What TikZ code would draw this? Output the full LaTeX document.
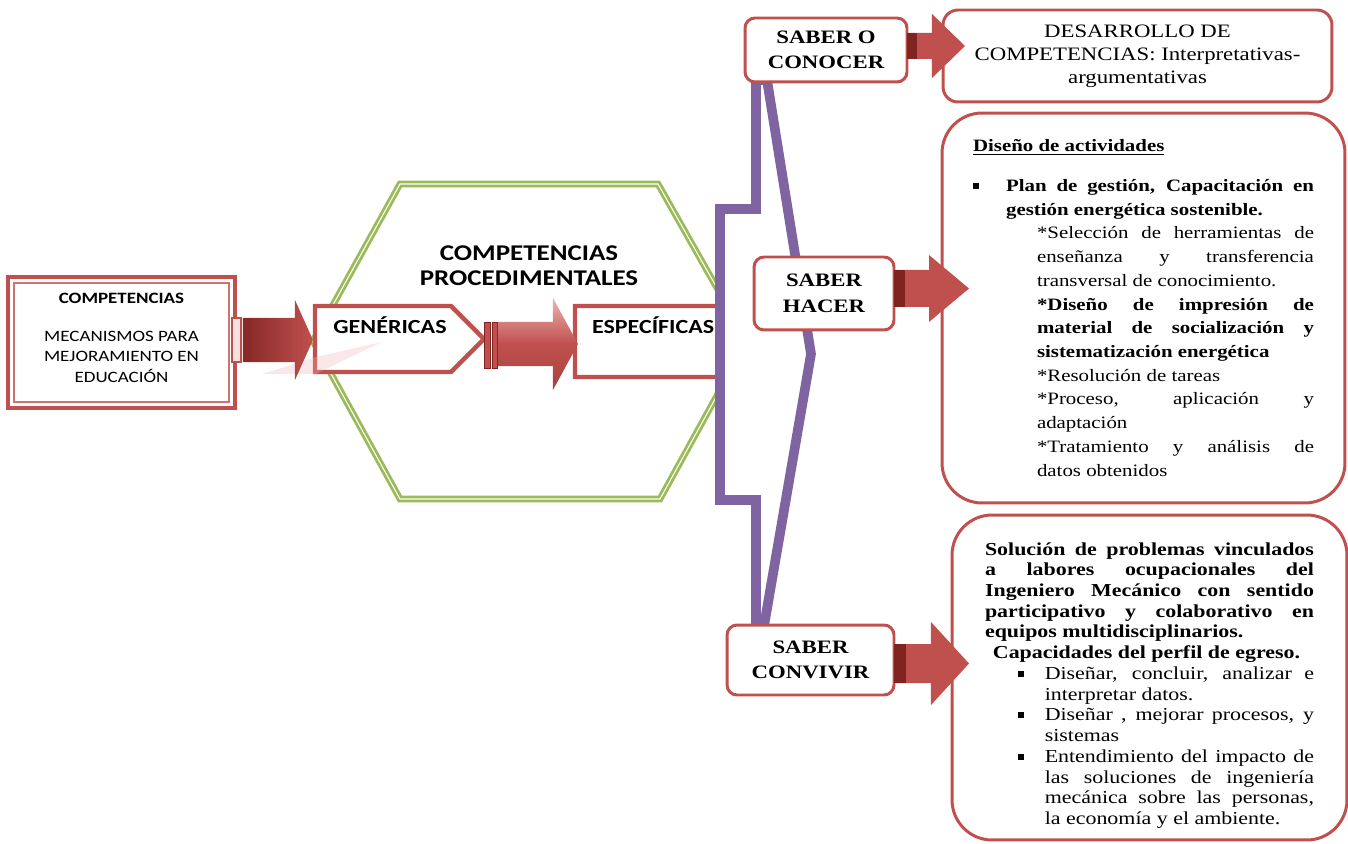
\documentclass[tikz,border=0pt]{standalone}
\usepackage{fontspec}
\setmainfont{Liberation Serif}[FakeStretch=1.2]
\newfontfamily\calibri{Carlito}[FakeStretch=1.2]
\definecolor{myred}{RGB}{192,80,77}
\definecolor{mydarkred}{RGB}{128,36,34}
\definecolor{mypink}{RGB}{236,180,178}
\definecolor{mygreen}{RGB}{155,187,89}
\definecolor{mypurple}{RGB}{128,100,162}
\usetikzlibrary{shapes.symbols,calc}

\newcommand{\sqbullet}{\rule[1.5pt]{3.5pt}{3.5pt}}

\begin{document}
\begin{tikzpicture}[x=0.02cm,y=-0.02cm,
    every node/.style={outer sep=0pt},
    compbox/.style={draw=myred,line width=2.5pt,fill=white,minimum width=4.54cm,minimum height=2.62cm,align=center,font=\calibri\fontsize{9}{11.7}\selectfont},
    arrowbox/.style={signal,signal to=east,signal pointer angle=90,draw=myred,line width=2.5pt,fill=white,inner sep=0pt,anchor=west,font=\calibri\bfseries\fontsize{11.4}{13}\selectfont,text height=8pt},
    saberbox/.style={draw=myred,line width=1.7pt,fill=white,rounded corners=0.2cm,align=center,inner sep=0pt,font=\bfseries\fontsize{10.8}{14.5}\selectfont},
    bigbox/.style={draw=myred,line width=1.7pt,fill=white,rounded corners=0.8cm,inner sep=0pt},
    hexline/.style={draw=mygreen,double=white,line width=1.6pt,double distance=0.6pt,fill=white},
    braceline/.style={draw=mypurple,line width=5.5pt,fill=white,line join=miter},
    boxarrow/.style={fill=myred},
    arrowband/.style={fill=mydarkred}
    ]
    \useasboundingbox (0,0) rectangle (1348,844);

    % hexagon
    \draw[hexline] (400,184) -- (658,184) -- (747,341) -- (660,499) -- (400,499) -- (313,341) -- cycle;

    \node (comp) [compbox] at (121.5,342.5) {\textbf{COMPETENCIAS}\\[10pt]MECANISMOS PARA\\MEJORAMIENTO EN\\EDUCACIÓN\\[-6pt]\mbox{}};
    \draw[myred!80,line width=0.8pt] ($(comp.south west)+(6,-6)$) rectangle ($(comp.north east)+(-6,6)$);
    \node (proc) [align=center,font=\calibri\bfseries\fontsize{12.8}{14.2}\selectfont] at (529,266) {COMPETENCIAS\\PROCEDIMENTALES};
    \node (gen) [arrowbox,minimum width=3.38cm,minimum height=1.32cm,text depth=14.4pt] at (315,339) {\kern8pt GENÉRICAS};
    \fill[mypink,opacity=0.3] (262,374) -- (316,357) -- (382,342) -- (340,362) -- (316,374) -- cycle;
    \node (spec) [arrowbox,minimum width=3.64cm,minimum height=1.42cm,text depth=17.2pt] at (575,341.5) {\kern5.6pt ESPECÍFICAS};

    % the arrows between the boxes
    \filldraw[fill=mypink!40,draw=myred,line width=0.6pt] (comp.east) ++(-3,-24.5) rectangle ++(9,44);
    \shade[left color=mydarkred,right color=myred] (comp.east) ++(8,-24.5) -- ++(52,0) -- ++(0,-18) -- ++(18,40) -- ++(-18,40) -- ++(0,-18) -- ++(-52,0) -- cycle;
    \filldraw[fill=myred,draw=mydarkred,line width=0.5pt] (gen.east) ++(0,-17) rectangle ++(6,46);
    \filldraw[fill=myred,draw=mydarkred,line width=0.5pt] (gen.east) ++(8,-17) rectangle ++(5,46);
    \shade[top color=mypink,bottom color=myred!85!black,middle color=myred] (gen.east) ++(14,-17) -- ++(55,0) -- ++(0,-24) -- ++(25,46) -- ++(-25,46) -- ++(0,-24) -- ++(-55,0) -- cycle;

    % brace
    \draw[braceline] (756,80) -- (756,209) -- (720,209) -- (720,500) -- (756,500) -- (756,626) -- (764,626) -- (811,354) -- (767,80) -- cycle;

    \node (conocer) [saberbox,minimum width=3.24cm,minimum height=1.28cm] at (826,50) {SABER O\\CONOCER};
    \node (hacer) [saberbox,minimum width=2.8cm,minimum height=1.46cm] at (824,293.5) {SABER\\HACER};
    \node (convivir) [saberbox,minimum width=3.34cm,minimum height=1.4cm] at (810.5,660) {SABER\\CONVIVIR};

    \node (desarrollo) [bigbox,rounded corners=0.3cm,minimum width=7.78cm,minimum height=1.84cm,align=center,font=\fontsize{10.8}{13.1}\selectfont] at (1137.5,56) {DESARROLLO DE\\COMPETENCIAS: Interpretativas-\\argumentativas};

    \node (actividades) [bigbox,minimum width=8.06cm,minimum height=7.8cm] at (1143.5,308) {%
      \begin{minipage}{6.82cm}
        \fontsize{9.9}{13.5}\selectfont
        \underline{\textbf{Diseño de actividades}}\par\vspace{9pt}
        {\leftskip=18.8pt\noindent\llap{\sqbullet\hspace{15.3pt}}\textbf{Plan de gestión, Capacitación en\linebreak gestión energética sostenible.}\par}
        {\leftskip=36.4pt
        *Selección de herramientas de\linebreak enseñanza y transferencia\linebreak transversal de conocimiento.\par
        \textbf{*Diseño de impresión de\linebreak material de socialización y\linebreak sistematización energética}\par
        *Resolución de tareas\par
        *Proceso, aplicación y\linebreak adaptación\par
        *Tratamiento y análisis de\linebreak datos obtenidos\par}
      \end{minipage}};

    \node (perfil) [bigbox,minimum width=7.9cm,minimum height=6.5cm] at (1149.5,677.5) {%
      \begin{minipage}{6.58cm}
        \vspace*{9pt}
        \fontsize{10.4}{11.8}\selectfont
        \textbf{Solución de problemas vinculados\linebreak a labores ocupacionales del\linebreak Ingeniero Mecánico con sentido\linebreak participativo y colaborativo en\linebreak equipos multidisciplinarios.}\par
        \hspace*{4.5pt}\textbf{Capacidades del perfil de egreso.}\par
        {\leftskip=34pt
        \noindent\llap{\sqbullet\hspace{11.9pt}}Diseñar, concluir, analizar e\linebreak interpretar datos.\par
        \noindent\llap{\sqbullet\hspace{11.9pt}}Diseñar , mejorar procesos, y\linebreak sistemas\par
        \noindent\llap{\sqbullet\hspace{11.9pt}}Entendimiento del impacto de\linebreak las soluciones de ingeniería\linebreak mecánica sobre las personas,\linebreak la economía y el ambiente.\par}
      \end{minipage}};

    % arrows to the right boxes
    \fill[boxarrow] (conocer.east) ++(0,-17) -- ++(25,0) -- ++(0,-19) -- ++(33,32) -- ++(-33,32) -- ++(0,-19) -- ++(-25,0) -- cycle;
    \fill[arrowband] (conocer.east) ++(0,-17) rectangle ++(10,26);
    \fill[boxarrow] (hacer.east) ++(0,-23.5) -- ++(35,0) -- ++(0,-15) -- ++(40,33.5) -- ++(-40,33.5) -- ++(0,-15) -- ++(-35,0) -- cycle;
    \fill[arrowband] (hacer.east) ++(0,-23.5) rectangle ++(11,37);
    \fill[boxarrow] (convivir.east) ++(0,-16) -- ++(37,0) -- ++(0,-22) -- ++(38,41.5) -- ++(-38,41.5) -- ++(0,-22) -- ++(-37,0) -- cycle;
    \fill[arrowband] (convivir.east) ++(0,-16) rectangle ++(12,39);
\end{tikzpicture}
\end{document}
